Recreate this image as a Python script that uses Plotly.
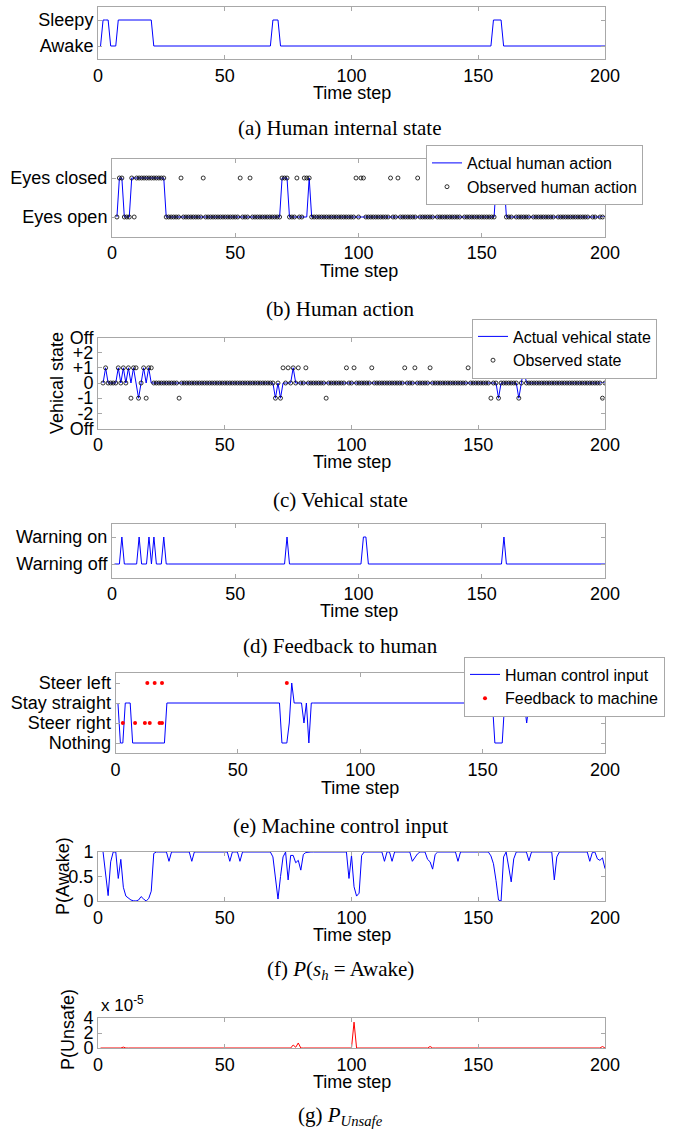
import plotly.graph_objects as go

# ---------------- data ----------------
time_steps = list(range(1, 201))

# (a) human internal state: 1 = Awake, 2 = Sleepy
human_state = [
    1,2,2,2,1,1,1,2,2,2,2,2,2,2,2,2,2,2,2,2,
    2,1,1,1,1,1,1,1,1,1,1,1,1,1,1,1,1,1,1,1,
    1,1,1,1,1,1,1,1,1,1,1,1,1,1,1,1,1,1,1,1,
    1,1,1,1,1,1,1,1,2,2,2,1,1,1,1,1,1,1,1,1,
    1,1,1,1,1,1,1,1,1,1,1,1,1,1,1,1,1,1,1,1,
    1,1,1,1,1,1,1,1,1,1,1,1,1,1,1,1,1,1,1,1,
    1,1,1,1,1,1,1,1,1,1,1,1,1,1,1,1,1,1,1,1,
    1,1,1,1,1,1,1,1,1,1,1,1,1,1,1,2,2,2,2,1,
    1,1,1,1,1,1,1,1,1,1,1,1,1,1,1,1,1,1,1,1,
    1,1,1,1,1,1,1,1,1,1,1,1,1,1,1,1,1,1,1,1,
]
state_labels = ["Awake", "Sleepy"]

# (b) human action: 1 = Eyes open, 2 = Eyes closed
action_actual = [
    None,1,2,2,1,1,1,2,2,2,2,2,2,2,2,2,2,2,2,2,
    2,1,1,1,1,1,1,1,1,1,1,1,1,1,1,1,1,1,1,1,
    1,1,1,1,1,1,1,1,1,1,1,1,1,1,1,1,1,1,1,1,
    1,1,1,1,1,1,1,1,2,2,2,1,1,1,1,1,1,1,1,2,
    1,1,1,1,1,1,1,1,1,1,1,1,1,1,1,1,1,1,1,1,
    1,1,1,1,1,1,1,1,1,1,1,1,1,1,1,1,1,1,1,1,
    1,1,1,1,1,1,1,1,1,1,1,1,1,1,1,1,1,1,1,1,
    1,1,1,1,1,1,1,1,1,1,1,1,1,1,1,2,2,2,2,1,
    1,1,1,1,1,1,1,1,1,1,1,1,1,1,1,1,1,1,1,1,
    1,1,1,1,1,1,1,1,1,1,1,1,1,1,1,1,1,1,1,1,
]
action_observed = [
    None,1,2,2,1,1,1,2,1,2,2,2,2,2,2,2,2,2,2,2,
    2,1,1,1,1,1,1,2,1,1,1,1,1,1,1,1,2,1,1,1,
    1,1,1,1,1,1,1,1,1,1,1,2,1,1,1,2,1,1,1,1,
    1,1,1,1,1,1,1,1,2,2,2,1,1,1,2,1,1,2,2,2,
    1,1,1,1,1,1,1,1,1,1,1,1,1,1,1,1,1,1,2,1,
    2,2,1,1,1,1,1,1,1,1,1,1,2,1,1,2,1,1,1,1,
    1,1,1,2,1,1,1,1,1,1,2,1,1,1,1,1,1,1,1,1,
    1,2,1,1,1,1,1,1,1,1,1,1,1,1,1,2,2,2,2,1,
    1,1,2,1,1,1,1,1,1,2,1,1,1,1,1,1,1,1,1,2,
    1,1,1,1,1,1,1,1,1,1,1,1,1,2,1,1,2,1,1,2,
]
action_labels = ["Eyes open", "Eyes closed"]

# (c) vehicle state: -3 = Off ... +3 = Off
vehicle_actual = [
    None,0,1,0,0,0,0,1,0,1,0,1,0,1,0,-1,0,1,0,1,
    0,0,0,0,0,0,0,0,0,0,0,0,0,0,0,0,0,0,0,0,
    0,0,0,0,0,0,0,0,0,0,0,0,0,0,0,0,0,0,0,0,
    0,0,0,0,0,0,0,0,0,-1,0,-1,0,0,0,0,1,0,0,0,
    0,0,0,0,0,0,0,0,0,0,0,0,0,0,0,0,0,0,0,0,
    0,0,0,0,0,0,0,0,0,0,0,0,0,0,0,0,0,0,0,0,
    0,0,0,0,0,0,0,0,0,0,0,0,0,0,0,0,0,0,0,0,
    0,0,0,0,0,0,0,0,0,0,0,0,0,0,0,0,0,-1,0,0,
    0,0,0,0,0,-1,0,1,0,0,0,0,0,0,0,0,0,0,0,0,
    0,0,0,0,0,0,0,0,0,0,0,0,0,0,0,0,0,0,0,0,
]
vehicle_observed = [
    None,0,1,0,0,0,0,1,0,1,0,1,-1,1,1,-1,0,1,-1,1,
    1,0,0,0,0,0,0,0,0,0,0,-1,0,0,0,0,0,0,0,0,
    0,0,0,0,0,0,0,0,0,0,0,0,0,0,0,0,0,0,0,0,
    0,0,0,0,0,0,0,0,0,-1,0,-1,1,0,1,0,1,0,1,0,
    0,1,0,0,0,0,0,0,0,-1,0,0,0,0,0,0,0,1,0,0,
    1,0,0,0,0,0,0,1,0,0,0,0,0,0,0,0,0,0,0,0,
    1,0,0,0,1,0,0,0,0,0,1,0,0,0,0,0,0,0,0,0,
    0,0,0,0,0,1,0,0,0,0,0,0,0,0,-1,0,0,-1,0,0,
    0,0,0,0,0,-1,0,1,0,0,0,0,0,0,0,0,0,0,0,0,
    0,0,0,0,0,0,0,0,0,0,0,0,0,0,0,0,0,0,-1,0,
]
vehicle_tickvals = [-3, -2, -1, 0, 1, 2, 3]
vehicle_labels = ["Off", "-2", "-1", "0", "+1", "+2", "Off"]

# (d) feedback to human: 1 = Warning off, 2 = Warning on
warning = [
    1,1,1,2,1,1,1,1,1,1,2,1,1,1,2,1,2,1,1,1,
    2,1,1,1,1,1,1,1,1,1,1,1,1,1,1,1,1,1,1,1,
    1,1,1,1,1,1,1,1,1,1,1,1,1,1,1,1,1,1,1,1,
    1,1,1,1,1,1,1,1,1,1,2,1,1,1,1,1,1,1,1,1,
    1,1,1,1,1,1,1,1,1,1,1,1,1,1,1,1,1,1,1,1,
    1,2,2,1,1,1,1,1,1,1,1,1,1,1,1,1,1,1,1,1,
    1,1,1,1,1,1,1,1,1,1,1,1,1,1,1,1,1,1,1,1,
    1,1,1,1,1,1,1,1,1,1,1,1,1,1,1,1,1,1,2,1,
    1,1,1,1,1,1,1,1,1,1,1,1,1,1,1,1,1,1,1,1,
    1,1,1,1,1,1,1,1,1,1,1,1,1,1,1,1,1,1,1,1,
]
warning_labels = ["Warning off", "Warning on"]

# (e) control: 0 = Nothing, 1 = Steer right, 2 = Stay straight, 3 = Steer left
human_control = [
    2,0,0,2,2,2,0,0,0,0,0,0,0,0,0,0,0,0,0,0,
    2,2,2,2,2,2,2,2,2,2,2,2,2,2,2,2,2,2,2,2,
    2,2,2,2,2,2,2,2,2,2,2,2,2,2,2,2,2,2,2,2,
    2,2,2,2,2,2,2,0,0,0,1,3,2,2,2,2,1,2,0,2,
    2,2,2,2,2,2,2,2,2,2,2,2,2,2,2,2,2,2,2,2,
    2,2,2,2,2,2,2,2,2,2,2,2,2,2,2,2,2,2,2,2,
    2,2,2,2,2,2,2,2,2,2,2,2,2,2,2,2,2,2,2,2,
    2,2,2,2,2,2,2,2,2,2,2,2,2,2,0,0,0,0,2,2,
    2,2,2,2,2,2,2,1,2,2,2,2,2,2,2,2,2,2,2,2,
    2,2,2,2,2,2,2,2,2,2,2,2,2,2,2,2,2,2,2,2,
]
feedback_t = [3, 8, 12, 14, 18, 19, 13, 16, 19, 70]
feedback_val = [1, 1, 1, 1, 1, 1, 3, 3, 3, 3]
control_labels = ["Nothing", "Steer right", "Stay straight", "Steer left"]

# (f) P(Awake)
p_awake = [
    None,1,0.55,0.11,0.8,1,1,0.46,0.85,0.28,0.1,0.05,0.02,0.005,0,0.02,0.09,0.04,0,0.05,
    0.2,0.97,1,1,1,1,1,0.81,1,1,1,1,1,1,1,1,0.81,1,1,1,
    1,1,1,1,1,1,1,1,1,1,1,0.81,1,1,1,0.81,1,1,1,1,
    1,1,1,1,1,1,1,1,0.9,0.46,0.04,0.5,0.9,1,0.43,0.93,0.93,0.78,0.83,0.63,
    0.95,0.99,1,1,1,1,1,1,1,1,1,1,1,1,1,1,1,1,0.46,0.93,
    0.29,0.1,0.16,0.93,1,1,1,1,1,1,1,1,0.81,1,1,0.81,1,1,1,1,
    1,1,1,0.81,0.88,0.96,1,1,1,0.85,0.8,0.65,0.95,1,1,1,1,1,1,1,
    1,0.81,1,1,1,1,1,1,1,1,1,1,1,1,0.92,0.76,0.42,0.02,0,0.9,
    1,0.73,0.39,0.86,1,1,1,1,1,0.82,1,1,1,1,1,1,1,1,1,0.43,
    0.9,1,1,1,1,1,1,1,1,1,1,1,1,0.81,0.99,1,0.86,0.83,0.88,0.66,
]

# (g) P(Unsafe), in units of 1e-5
p_unsafe_e5 = [
    0,0,0,0,0,0,0,0,0,0.12,0,0,0,0,0,0,0,0,0,0,
    0,0,0,0,0,0,0,0,0,0,0,0,0,0,0,0,0,0,0,0,
    0,0,0,0,0,0,0,0,0,0,0,0,0,0,0,0,0,0,0,0,
    0,0,0,0,0,0,0,0,0,0,0,0,0,0,0,0,0.4,0.1,0.67,0,
    0,0,0,0,0,0,0,0,0,0,0,0,0,0,0,0,0,0,0,0,
    3.45,0,0,0,0,0,0,0,0,0,0,0,0,0,0,0,0,0,0,0,
    0,0,0,0,0,0,0,0,0,0,0.2,0,0,0,0,0,0,0,0,0,
    0,0,0,0,0,0,0,0,0,0,0,0,0,0,0,0,0,0,0,0,
    0,0,0,0,0,0,0,0,0,0,0,0,0,0,0,0,0,0,0,0,
    0,0,0,0,0,0,0,0,0,0,0,0,0,0,0,0,0,0,0.2,0,
]

x_ticks = [0, 50, 100, 150, 200]

# ---------------- layout helpers ----------------
W, H = 680, 1136
SANS = "Liberation Sans, Arial, Helvetica, sans-serif"
SERIF = "Liberation Serif, Times New Roman, serif"
GRAY = "#a8a8a8"
BLUE = "#0000ff"
RED = "#ff0000"

def xd(x0, x1):
    return [x0 / W, x1 / W]

def yd(y0, y1):
    return [1 - y1 / H, 1 - y0 / H]

# plot-area boxes in pixels: (left, right, top, bottom)
boxes = {
    1: (98, 605, 7, 59),
    2: (112, 605, 158.5, 236.5),
    3: (98, 605, 337.5, 428.5),
    4: (112, 605, 523.5, 577.5),
    5: (115.5, 605, 673, 753),
    6: (98, 605, 852, 901),
    7: (98, 605, 1018, 1048),
}

def axis_common():
    return dict(showline=True, linecolor=GRAY, linewidth=1, mirror="ticks",
                ticks="inside", ticklen=4, tickwidth=1, tickcolor=GRAY,
                showgrid=False, zeroline=False, fixedrange=True, automargin=False,
                tickfont=dict(family=SANS, size=18, color="black"))

fig = go.Figure()

def ax(i, kind):
    s = "" if i == 1 else str(i)
    return kind + s

# (a)
fig.add_trace(go.Scatter(x=time_steps, y=human_state, mode="lines",
                         line=dict(color=BLUE, width=1), showlegend=False,
                         xaxis="x", yaxis="y"))
# (b)
fig.add_trace(go.Scatter(x=time_steps, y=action_actual, mode="lines",
                         line=dict(color=BLUE, width=1), name="Actual human action",
                         xaxis="x2", yaxis="y2", legend="legend"))
fig.add_trace(go.Scatter(x=time_steps, y=action_observed, mode="markers",
                         marker=dict(symbol="circle-open", size=4, color="black",
                                     line=dict(width=0.8)),
                         name="Observed human action",
                         xaxis="x2", yaxis="y2", legend="legend"))
# (c)
fig.add_trace(go.Scatter(x=time_steps, y=vehicle_actual, mode="lines",
                         line=dict(color=BLUE, width=1), name="Actual vehical state",
                         xaxis="x3", yaxis="y3", legend="legend2"))
fig.add_trace(go.Scatter(x=time_steps, y=vehicle_observed, mode="markers",
                         marker=dict(symbol="circle-open", size=4, color="black",
                                     line=dict(width=0.8)),
                         name="Observed state",
                         xaxis="x3", yaxis="y3", legend="legend2"))
# (d)
fig.add_trace(go.Scatter(x=time_steps, y=warning, mode="lines",
                         line=dict(color=BLUE, width=1), showlegend=False,
                         xaxis="x4", yaxis="y4"))
# (e)
fig.add_trace(go.Scatter(x=time_steps, y=human_control, mode="lines",
                         line=dict(color=BLUE, width=1), name="Human control input",
                         xaxis="x5", yaxis="y5", legend="legend3"))
fig.add_trace(go.Scatter(x=feedback_t, y=feedback_val, mode="markers",
                         marker=dict(symbol="circle", size=4, color=RED),
                         name="Feedback to machine",
                         xaxis="x5", yaxis="y5", legend="legend3"))
# (f)
fig.add_trace(go.Scatter(x=time_steps, y=p_awake, mode="lines",
                         line=dict(color=BLUE, width=1), showlegend=False,
                         xaxis="x6", yaxis="y6"))
# (g)
fig.add_trace(go.Scatter(x=time_steps, y=p_unsafe_e5, mode="lines",
                         line=dict(color=RED, width=1), showlegend=False,
                         xaxis="x7", yaxis="y7"))

layout = dict(width=W, height=H,
              margin=dict(l=0, r=0, t=0, b=0, pad=0, autoexpand=False),
              paper_bgcolor="white", plot_bgcolor="white", showlegend=True)

yconf = {
    1: dict(range=[0.5, 2.5], tickvals=[1, 2], ticktext=state_labels),
    2: dict(range=[0.5, 2.5], tickvals=[1, 2], ticktext=action_labels),
    3: dict(range=[-3, 3], tickvals=vehicle_tickvals, ticktext=vehicle_labels),
    4: dict(range=[0.5, 2.5], tickvals=[1, 2], ticktext=warning_labels),
    5: dict(range=[-0.5, 3.5], tickvals=[0, 1, 2, 3], ticktext=control_labels),
    6: dict(range=[0, 1], tickvals=[0, 0.5, 1], ticktext=["0", "0.5", "1"]),
    7: dict(range=[0, 4], tickvals=[0, 2, 4], ticktext=["0", "2", "4"]),
}

annotations = []
captions = {
    1: ("(a) Human internal state", 128),
    2: ("(b) Human action", 309),
    3: ("(c) Vehical state", 500),
    4: ("(d) Feedback to human", 646),
    5: ("(e) Machine control input", 826),
    6: ("(f) <i>P</i>(<i>s<sub>h</sub></i> = Awake)", 970),
    7: ("(g) <i>P<sub>Unsafe</sub></i>", 1116),
}
xtitle_y = {1: 93, 2: 271, 3: 462, 4: 611, 5: 788, 6: 935, 7: 1082}

for i, (l, r, t, b) in boxes.items():
    xa = axis_common()
    xa.update(domain=xd(l, r), range=[0, 200], tickvals=x_ticks,
              anchor=ax(i, "y"))
    ya = axis_common()
    ya.update(domain=yd(t, b), anchor=ax(i, "x"), **yconf[i])
    layout["xaxis" + ("" if i == 1 else str(i))] = xa
    layout["yaxis" + ("" if i == 1 else str(i))] = ya
    annotations.append(dict(text="Time step", x=(l + r) / 2 / W, y=1 - xtitle_y[i] / H,
                            xref="paper", yref="paper", showarrow=False,
                            xanchor="center", yanchor="middle",
                            font=dict(family=SANS, size=18, color="black")))
    txt, cy = captions[i]
    annotations.append(dict(text=txt, x=340 / W, y=1 - cy / H,
                            xref="paper", yref="paper", showarrow=False,
                            xanchor="center", yanchor="middle",
                            font=dict(family=SERIF, size=21, color="black")))

# rotated y titles
for txt, cx, cy in [("Vehical state", 57, 383), ("P(Awake)", 63, 876), ("P(Unsafe)", 68, 1030)]:
    annotations.append(dict(text=txt, x=cx / W, y=1 - cy / H, xref="paper", yref="paper",
                            showarrow=False, textangle=-90, xanchor="center", yanchor="middle",
                            font=dict(family=SANS, size=18, color="black")))
# exponent label
annotations.append(dict(text="x 10<sup>-5</sup>", x=99 / W, y=1 - 1004 / H,
                        xref="paper", yref="paper", showarrow=False,
                        xanchor="left", yanchor="middle",
                        font=dict(family=SANS, size=17, color="black")))
layout["annotations"] = annotations

leg_common = dict(bgcolor="white", bordercolor=GRAY, borderwidth=1,
                  font=dict(family=SANS, size=16, color="black"),
                  xanchor="right", yanchor="top", tracegroupgap=0, itemwidth=30)
layout["legend"] = dict(x=643 / W, y=1 - 145 / H, **leg_common)
layout["legend2"] = dict(x=657 / W, y=1 - 318.5 / H, **leg_common)
layout["legend3"] = dict(x=665 / W, y=1 - 656.5 / H, **leg_common)

fig.update_layout(**layout)
# remove the browser's default page margin so the figure sits at the window's corner
fig.write_html("out.html", config={"displayModeBar": False},
               post_script="document.body.style.margin='0';")
